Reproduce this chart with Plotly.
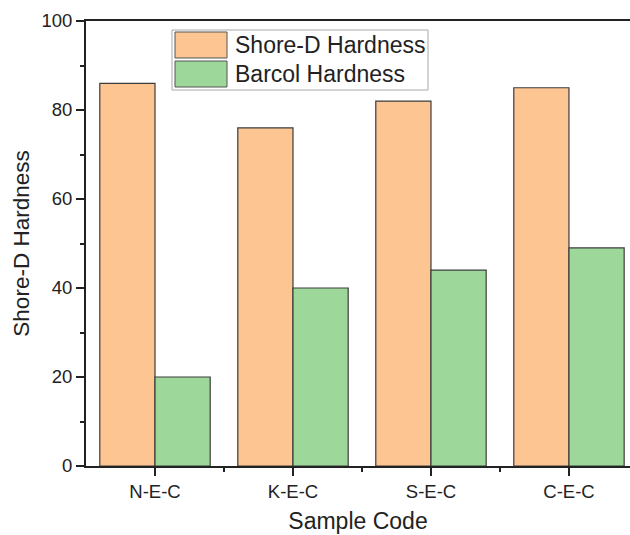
import plotly.graph_objects as go

categories = ["N-E-C", "K-E-C", "S-E-C", "C-E-C"]
shore_d = [86, 76, 82, 85]
barcol = [20, 40, 44, 49]
series_names = ["Shore-D Hardness", "Barcol Hardness"]
y_ticks = [0, 20, 40, 60, 80, 100]

ORANGE = "#FDC592"
GREEN = "#9DD79A"
EDGE = "#3c3c3c"
FONT = "Liberation Sans, Arial, sans-serif"

fig = go.Figure()
for name, vals, col in [(series_names[0], shore_d, ORANGE), (series_names[1], barcol, GREEN)]:
    fig.add_trace(go.Bar(x=list(range(len(categories))), y=vals, name=name,
                         marker=dict(color=col, line=dict(color=EDGE, width=1.2)),
                         showlegend=False))

W, H = 630, 535
L, R, T, B = 86, 0, 21, 69
pw, ph = W - L - R, H - T - B

def px(x):
    return (x - L) / pw

def py(y):
    return (H - B - y) / ph

shapes = [dict(type="rect", xref="paper", yref="paper", x0=px(172), x1=px(428), y0=py(90), y1=py(30),
               line=dict(color="#a8a8a8", width=1), fillcolor="white", layer="above")]
annotations = []
for i, (name, col) in enumerate(zip(series_names, [ORANGE, GREEN])):
    top = 32 + i * 29
    shapes.append(dict(type="rect", xref="paper", yref="paper", x0=px(175), x1=px(227),
                       y0=py(top + 26), y1=py(top), fillcolor=col,
                       line=dict(color="#555555", width=1), layer="above"))
    annotations.append(dict(text=name, xref="paper", yref="paper", x=px(233), y=py(top + 13),
                            xanchor="left", yanchor="middle", showarrow=False,
                            font=dict(family=FONT, size=23, color="#222222")))

fig.update_layout(
    width=W, height=H, margin=dict(l=L, r=R, t=T, b=B, autoexpand=False),
    paper_bgcolor="white", plot_bgcolor="white",
    barmode="group", bargap=0.2, bargroupgap=0,
    font=dict(family=FONT, size=18, color="#222222"),
    shapes=shapes, annotations=annotations,
    xaxis=dict(range=[-0.5, 3.5 - 8 / 138.5], tickmode="array",
               tickvals=list(range(len(categories))), ticktext=categories,
               ticks="outside", ticklen=8, tickwidth=1.5, tickcolor="#222",
               showline=True, linecolor="#222", linewidth=1.8, mirror=True,
               showgrid=False, zeroline=False,
               minor=dict(tickvals=[0.5, 1.5, 2.5], ticks="outside", ticklen=4, tickwidth=1.5, tickcolor="#222"),
               title=dict(text="Sample Code", font=dict(size=23), standoff=12),
               tickfont=dict(size=18.5)),
    yaxis=dict(range=[0, 100], tickvals=y_ticks,
               ticks="outside", ticklen=8, tickwidth=1.5, tickcolor="#222",
               showline=True, linecolor="#222", linewidth=1.8, mirror=False,
               showgrid=False, zeroline=False,
               minor=dict(dtick=10, ticks="outside", ticklen=4, tickwidth=1.5, tickcolor="#222"),
               title=dict(text="Shore-D Hardness", font=dict(size=22.5), standoff=6),
               tickfont=dict(size=18.5)),
)

fig.write_html("out.html")
